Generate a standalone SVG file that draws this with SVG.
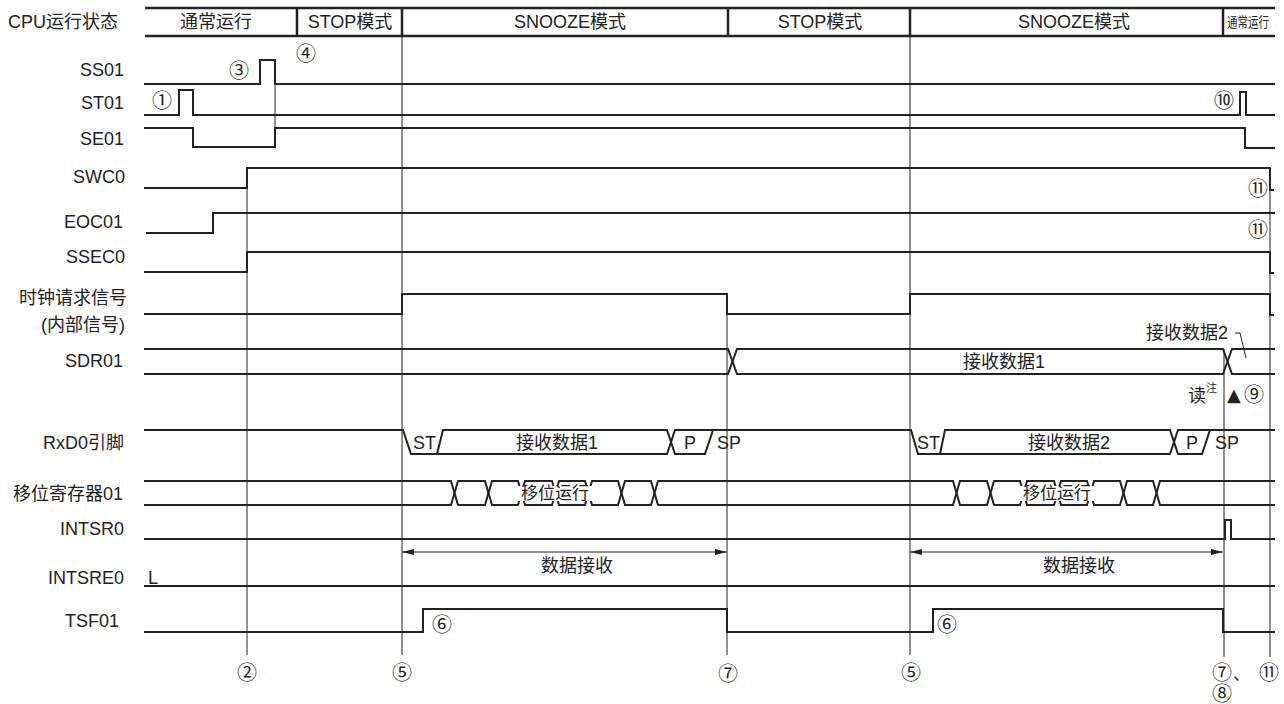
<svg xmlns="http://www.w3.org/2000/svg" width="1284" height="704" viewBox="0 0 1284 704">
<defs>
<marker id="ah" markerWidth="12" markerHeight="6" refX="12" refY="3" orient="auto-start-reverse" markerUnits="userSpaceOnUse"><path d="M0,0 L12,3 L0,6 Z" fill="#222"/></marker>
</defs>
<style>
text{font-family:"Liberation Sans","Noto Sans CJK SC",sans-serif;font-size:18px;fill:#222}
.lbl{text-anchor:end}
.c{text-anchor:middle}
.n{font-size:20px;text-anchor:middle}
.sig{fill:none;stroke:#222;stroke-width:2;stroke-linejoin:miter}
.hd{fill:none;stroke:#222;stroke-width:2.5}
.g{fill:none;stroke:#222;stroke-width:1}
</style>
<rect width="1284" height="704" fill="#fff"/>

<g id="header">
<path class="hd" d="M145,8 H1275 M145,36 H1275 M297,8 V36 M402,8 V36 M728,8 V36 M910,8 V36 M1223,8 V36"/>
<text x="8" y="28">CPU运行状态</text>
<text class="c" x="216" y="28">通常运行</text>
<text class="c" x="350" y="28">STOP模式</text>
<text class="c" x="570" y="28">SNOOZE模式</text>
<text class="c" x="820" y="28">STOP模式</text>
<text class="c" x="1074" y="28">SNOOZE模式</text>
<text x="1227" y="27" style="font-size:14px" textLength="42" lengthAdjust="spacingAndGlyphs">通常运行</text>
</g>

<g id="connectors">
<path class="g" d="M247,168 V655 M402,36 V655 M727,294 V655 M910,36 V655 M1224,349 V657 M1270,168 V657 M275,84 V128"/>
<path class="g" d="M402,552 H727" marker-start="url(#ah)" marker-end="url(#ah)"/>
<path class="g" d="M910,552 H1223" marker-start="url(#ah)" marker-end="url(#ah)"/>
<path class="g" d="M1235,333 H1240 L1246,358"/>
</g>

<g id="sig-ss01">
<text class="lbl" x="124" y="76">SS01</text>
<path class="sig" d="M144,84 H260 V60 H275 V84 H1275"/>
<text class="n" x="239" y="78">③</text>
<text class="n" x="306" y="61">④</text>
</g>

<g id="sig-st01">
<text class="lbl" x="124" y="109">ST01</text>
<path class="sig" d="M144,115 H179 V90 H193 V115 H1240 V92 H1246 V115 H1275"/>
<text class="n" x="162" y="108">①</text>
<text class="n" x="1224" y="108">⑩</text>
</g>

<g id="sig-se01">
<text class="lbl" x="124" y="145">SE01</text>
<path class="sig" d="M144,128 H193 V147 H275 V128 H1245 V148 H1275"/>
</g>

<g id="sig-swc0">
<text class="lbl" x="125" y="183">SWC0</text>
<path class="sig" d="M144,188 H247 V168 H1270 V190 H1274"/>
<text class="n" x="1258" y="196">⑪</text>
</g>

<g id="sig-eoc01">
<text class="lbl" x="123" y="228">EOC01</text>
<path class="sig" d="M146,233 H213 V213 H1275"/>
<text class="n" x="1258" y="237">⑪</text>
</g>

<g id="sig-ssec0">
<text class="lbl" x="125" y="263">SSEC0</text>
<path class="sig" d="M144,272 H247 V252 H1270 V273 H1274"/>
</g>

<g id="sig-clkreq">
<text class="lbl" x="127" y="304">时钟请求信号</text>
<text class="lbl" x="125" y="331">(内部信号)</text>
<path class="sig" d="M144,314 H402 V294 H727 V314 H910 V294 H1270 V315 H1274"/>
</g>

<g id="sig-sdr01">
<text class="lbl" x="123" y="367">SDR01</text>
<path class="sig" d="M144,349 H728 L737,374 H1223 L1232,349 H1275"/>
<path class="sig" d="M144,374 H728 L737,349 H1223 L1232,374 H1275"/>
<text class="c" x="1004" y="368">接收数据1</text>
<text class="lbl" x="1228" y="339">接收数据2</text>
<text x="1188" y="402">读</text>
<text x="1206" y="392" style="font-size:11px">注</text>
<text x="1227" y="401" style="font-size:18px;font-family:'DejaVu Sans',sans-serif">▲</text>
<text class="n" x="1254" y="402">⑨</text>
</g>

<g id="sig-rxd0">
<text class="lbl" x="124" y="449">RxD0引脚</text>
<path class="sig" d="M144,430 H403 L411,454 H667 L675,430 H911 L918,454 H1170 L1178,430 H1275"/>
<path class="sig" d="M437,454 L443,430 H667 L675,454 H705 L713,430"/>
<path class="sig" d="M940,454 L945,430 H1170 L1178,454 H1202 L1210,430"/>
<text x="413" y="449">ST</text>
<text class="c" x="557" y="449">接收数据1</text>
<text class="c" x="690" y="449">P</text>
<text x="717" y="449">SP</text>
<text x="917" y="449">ST</text>
<text class="c" x="1069" y="449">接收数据2</text>
<text class="c" x="1192" y="449">P</text>
<text x="1215" y="449">SP</text>
</g>

<g id="sig-shift01">
<text class="lbl" x="123" y="500">移位寄存器01</text>
<path class="sig" d="M144,481 H451 L458,505 H485 L492,481 H518 L525,505 H552 L559,481 H585 L592,505 H618 L625,481 H651 L658,505 H953 L960,481 H987 L994,505 H1020 L1027,481 H1054 L1061,505 H1087 L1094,481 H1120 L1127,505 H1153 L1160,481 H1275"/>
<path class="sig" d="M144,505 H451 L458,481 H485 L492,505 H518 L525,481 H552 L559,505 H585 L592,481 H618 L625,505 H651 L658,481 H953 L960,505 H987 L994,481 H1020 L1027,505 H1054 L1061,481 H1087 L1094,505 H1120 L1127,481 H1153 L1160,505 H1275"/>
<rect x="516" y="486" width="78" height="15" fill="#fff"/>
<rect x="1018" y="486" width="78" height="15" fill="#fff"/>
<text class="c" x="555" y="499" style="font-size:17px">移位运行</text>
<text class="c" x="1057" y="499" style="font-size:17px">移位运行</text>
</g>

<g id="sig-intsr0">
<text class="lbl" x="124" y="535">INTSR0</text>
<path class="sig" d="M144,539 H1225 V520 H1231 V539 H1275"/>
<text class="c" x="577" y="572">数据接收</text>
<text class="c" x="1079" y="572">数据接收</text>
</g>

<g id="sig-intsre0">
<text class="lbl" x="124" y="584">INTSRE0</text>
<text x="148" y="584">L</text>
<path class="sig" d="M144,586 H1275"/>
</g>

<g id="sig-tsf01">
<text class="lbl" x="119" y="627">TSF01</text>
<path class="sig" d="M144,632 H423 V609 H727 V632 H933 V609 H1223 V632 H1275"/>
<text class="n" x="442" y="632">⑥</text>
<text class="n" x="947" y="632">⑥</text>
</g>

<g id="markers-bottom">
<text class="n" x="247" y="680">②</text>
<text class="n" x="402" y="680">⑤</text>
<text class="n" x="728" y="681">⑦</text>
<text class="n" x="911" y="680">⑤</text>
<text class="n" x="1222" y="680">⑦</text>
<text x="1233" y="680" style="font-size:17px">、</text>
<text class="n" x="1222" y="701">⑧</text>
<text class="n" x="1269" y="680">⑪</text>
</g>
</svg>
